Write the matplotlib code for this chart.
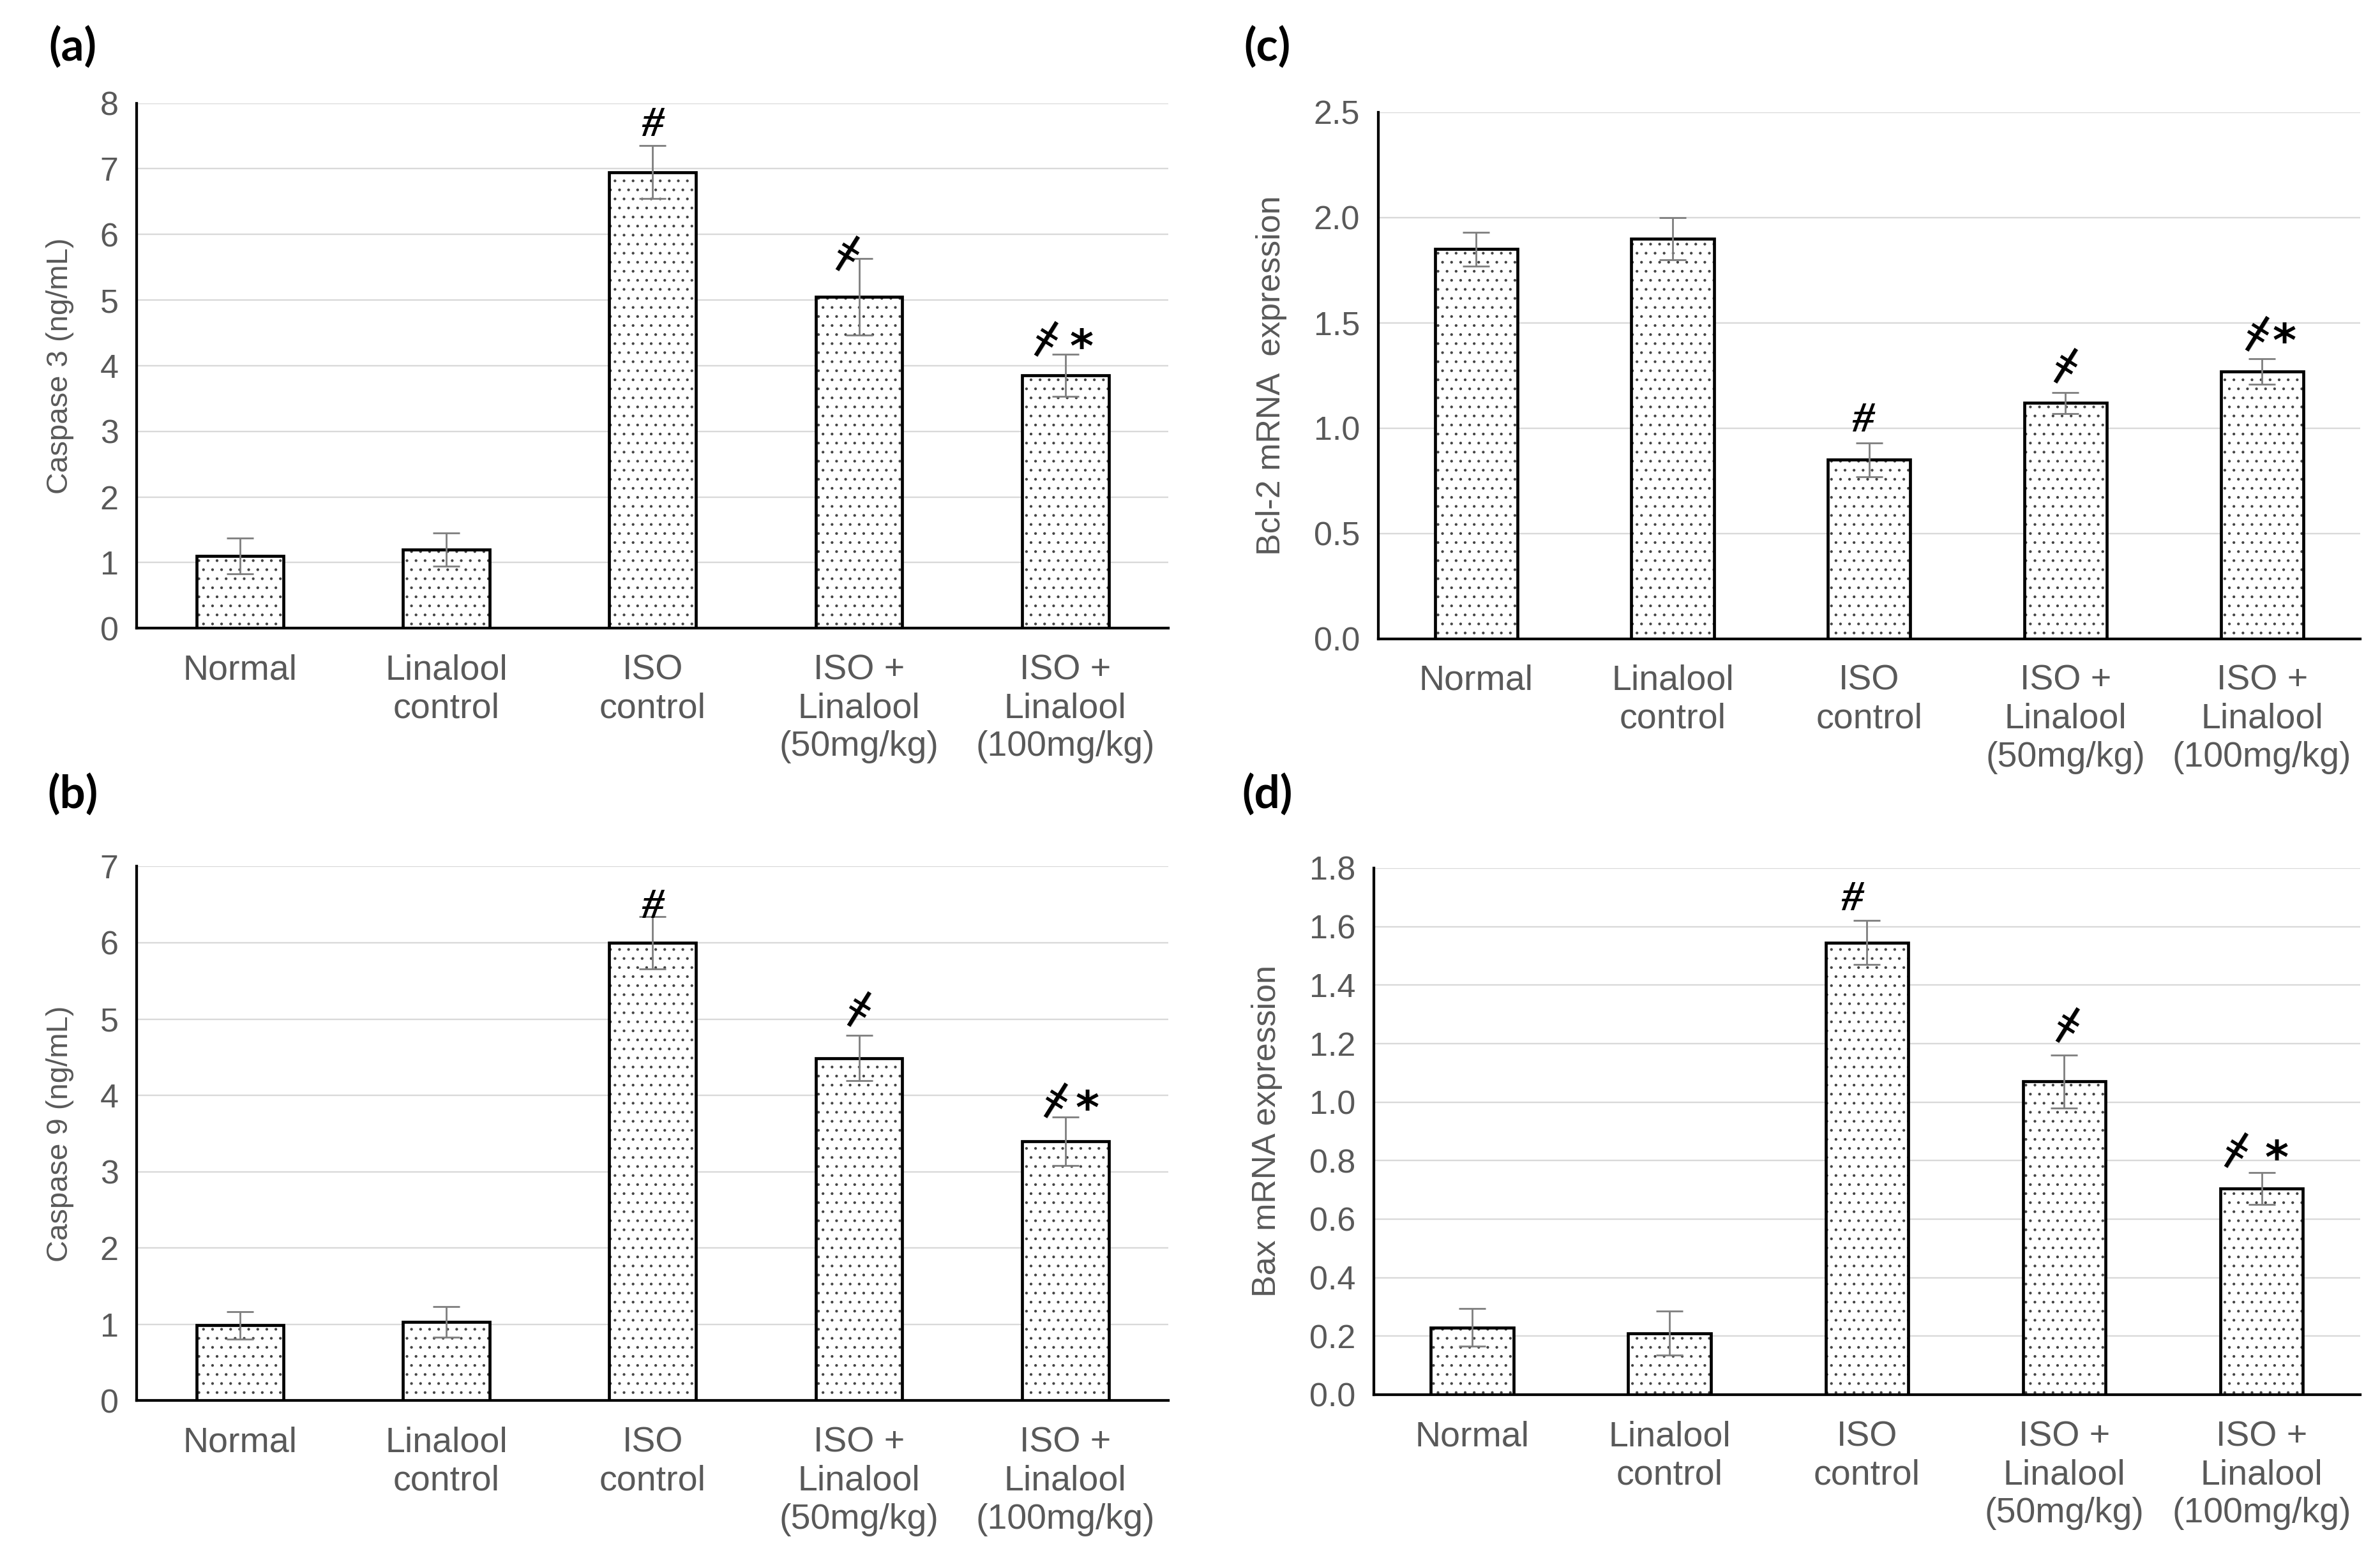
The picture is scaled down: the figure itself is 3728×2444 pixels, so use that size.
import matplotlib
matplotlib.use('Agg')
import matplotlib.pyplot as plt
import numpy as np

plt.rcParams['font.family'] = ['Liberation Sans', 'DejaVu Sans']
plt.rcParams['hatch.linewidth'] = 0.6

groups = ['Normal', 'Linalool\ncontrol', 'ISO\ncontrol',
          'ISO +\nLinalool\n(50mg/kg)', 'ISO +\nLinalool\n(100mg/kg)']

casp3 = [1.1, 1.2, 6.95, 5.05, 3.85]
casp3_err = [0.27, 0.25, 0.4, 0.58, 0.32]
casp9 = [0.99, 1.03, 6.0, 4.49, 3.4]
casp9_err = [0.18, 0.2, 0.34, 0.3, 0.32]
bcl2 = [1.85, 1.9, 0.85, 1.12, 1.27]
bcl2_err = [0.08, 0.1, 0.08, 0.05, 0.06]
bax = [0.23, 0.21, 1.545, 1.07, 0.705]
bax_err = [0.065, 0.075, 0.075, 0.09, 0.055]

# marks above bars: '' none, '#' vs normal, 'd' vs ISO, 'd*' both
marks = ['', '', '#', 'd', 'd*']

grey = '#595959'


def put(ax, s, xy, off, size, ink, **kw):
    # off = where the middle of the glyph goes, in points from xy
    ax.annotate(s, xy, xytext=(off[0], off[1] - ink * size),
                textcoords='offset points', ha='center', va='baseline',
                fontsize=size, zorder=6, **kw)


def dagger(ax, xy, off):
    ax.annotate('\u01c2', xy, xytext=off, textcoords='offset points',
                ha='center', va='center', fontsize=28,
                family='DejaVu Sans', rotation=-32, rotation_mode='anchor',
                zorder=6)


def panel(rect, letter, letter_pos, vals, errs, ymax, ystep, fmt, ylabel,
          ylab_x, ylab_size, offs):
    ax = fig.add_axes(rect)
    x = np.arange(len(vals))
    # dotted fill
    ax.bar(x, vals, width=0.42, color='white', edgecolor='#444444',
           hatch='..', linewidth=0, zorder=2)
    # outline
    ax.bar(x, vals, width=0.42, fill=False, edgecolor='black',
           linewidth=2.0, zorder=3)
    ax.errorbar(x, vals, yerr=errs, fmt='none', ecolor='#808080',
                elinewidth=1.2, capsize=9, capthick=1.2, zorder=4)
    ax.set_xlim(-0.5, len(vals) - 0.5)
    ax.set_ylim(0, ymax)
    ticks = np.arange(0, ymax + ystep / 2, ystep)
    ax.set_yticks(ticks)
    ax.set_yticklabels([fmt.format(t) for t in ticks])
    ax.set_xticks(x)
    ax.set_xticklabels(groups)
    ax.tick_params(axis='y', length=0, pad=12, labelsize=22, labelcolor=grey)
    ax.tick_params(axis='x', length=0, pad=17, labelsize=23.5, labelcolor=grey)
    ax.yaxis.grid(True, color='#d9d9d9', linewidth=1.0, zorder=0)
    ax.set_axisbelow(True)
    for s in ['top', 'right']:
        ax.spines[s].set_visible(False)
    for s in ['left', 'bottom']:
        ax.spines[s].set_linewidth(1.8)
        ax.spines[s].set_zorder(5)
    ax.set_ylabel(ylabel, fontsize=ylab_size, color=grey, va='center')
    ax.yaxis.set_label_coords(ylab_x, 0.5)
    fig.text(letter_pos[0], letter_pos[1], letter, fontsize=30,
             fontweight='bold', family='Lato', ha='center', va='center')

    for i, m in enumerate(marks):
        if not m:
            continue
        top = (x[i], vals[i] + errs[i])
        if m == '#':
            put(ax, '#', top, offs['hash'], 29, 0.33, fontweight='bold',
                family='Liberation Serif', fontstyle='italic')
        elif m == 'd':
            dagger(ax, top, offs['d'])
        else:
            dagger(ax, top, offs['dd'])
            put(ax, '*', top, offs['star'], 30, 0.56,
                fontweight='bold', family='DejaVu Sans')
    return ax


fig = plt.figure(figsize=(3728 / 170, 2444 / 170), dpi=170)

panel([0.0574, 0.5973, 0.4336, 0.3366], '(a)', (0.0306, 0.970),
      casp3, casp3_err, 8, 1, '{:.0f}', 'Caspase 3 (ng/mL)', -0.074, 20,
      {'hash': (0, 16), 'd': (-7.6, 4), 'dd': (-13, 11), 'star': (10.6, 12)})
panel([0.0574, 0.1021, 0.4336, 0.3425], '(b)', (0.0306, 0.491),
      casp9, casp9_err, 7, 1, '{:.0f}', 'Caspase 9 (ng/mL)', -0.074, 20,
      {'hash': (0, 9), 'd': (0, 17.5), 'dd': (-6.6, 11.4), 'star': (14.6, 12.2)})
panel([0.579, 0.5905, 0.4127, 0.3375], '(c)', (0.5325, 0.970),
      bcl2, bcl2_err, 2.5, 0.5, '{:.1f}', 'Bcl-2 mRNA  expression', -0.1085, 22,
      {'hash': (-4, 17), 'd': (0, 18), 'dd': (-3.4, 17), 'star': (14.6, 18.6)})
panel([0.5772, 0.106, 0.4145, 0.3376], '(d)', (0.5325, 0.491),
      bax, bax_err, 1.8, 0.2, '{:.1f}', 'Bax mRNA expression', -0.108, 22,
      {'hash': (-10, 16.4), 'd': (2, 20.5), 'dd': (-17, 15), 'star': (10, 16)})

fig.savefig('out.png', dpi=170)
